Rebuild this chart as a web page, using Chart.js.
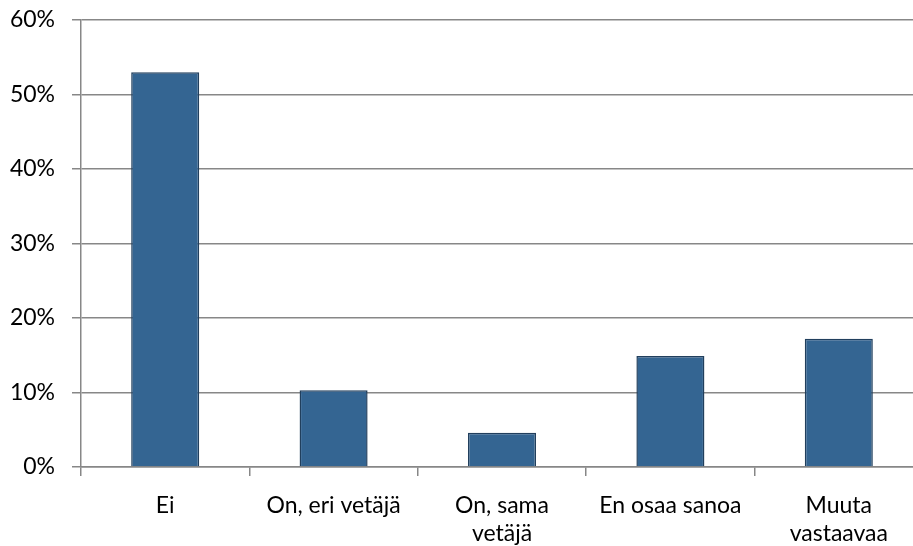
<!DOCTYPE html>
<html>
<head>
<meta charset="utf-8">
<script src="https://cdn.jsdelivr.net/npm/chart.js@4"></script>
<style>
  html, body { margin: 0; padding: 0; background: #fff; overflow: hidden; }
  #wrap { width: 923px; height: 546px; position: relative; }
</style>
</head>
<body>
<div id="wrap"><canvas id="chart"></canvas></div>
<script>
// --- Data ---
const categories = ['Ei', 'On, eri vetäjä', ['On, sama', 'vetäjä'], 'En osaa sanoa', ['Muuta', 'vastaavaa']];
const shares = [53.0, 10.3, 4.6, 14.9, 17.2];
const yTicks = [0, 10, 20, 30, 40, 50, 60];

const gridGray = '#878787';
const labelFont = { family: 'Lato, "Open Sans", sans-serif', size: 23, lineHeight: 1.24 };

const ctx = document.getElementById('chart').getContext('2d');
new Chart(ctx, {
  type: 'bar',
  data: {
    labels: categories,
    datasets: [{
      data: shares,
      backgroundColor: '#346592',
      borderColor: '#213f5d',
      borderWidth: 1.5,
      barPercentage: 0.404,
      categoryPercentage: 1
    }]
  },
  options: {
    responsive: true,
    maintainAspectRatio: false,
    animation: false,
    layout: { padding: { top: 20, left: 0, right: 0, bottom: 0 } },
    plugins: { legend: { display: false }, tooltip: { enabled: false } },
    scales: {
      x: {
        grid: { drawOnChartArea: false, tickLength: 9, color: gridGray, lineWidth: 1.5 },
        border: { color: gridGray, width: 1.5 },
        ticks: { color: '#000', font: labelFont, maxRotation: 0, padding: 15 },
        afterFit: (s) => { s.height = 79; s.paddingLeft = 0; s.paddingRight = 0; }
      },
      y: {
        min: 0,
        max: 60,
        afterBuildTicks: (s) => { s.ticks = yTicks.map(v => ({ value: v })); },
        grid: { color: gridGray, lineWidth: 1.5, tickLength: 9 },
        border: { color: gridGray, width: 1.5 },
        ticks: {
          color: '#000',
          font: labelFont,
          padding: 17,
          callback: (v) => v + '%'
        },
        afterFit: (s) => { s.width = 81; s.paddingTop = 0; s.paddingBottom = 0; }
      }
    }
  }
});
</script>
</body>
</html>
